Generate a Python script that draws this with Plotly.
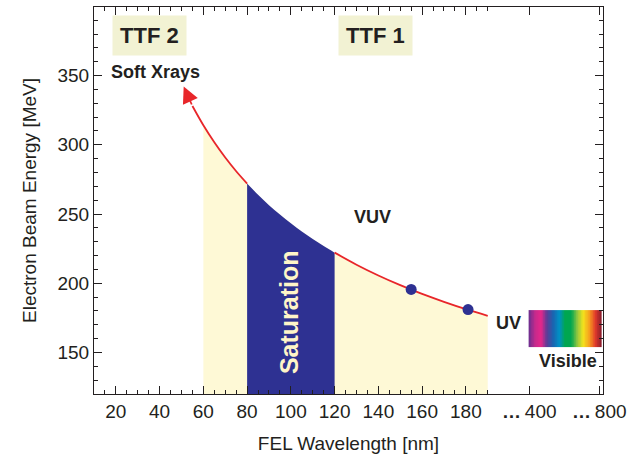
import plotly.graph_objects as go

# ---- data ----
wavelength = [55, 60, 65, 70, 75, 80, 85, 90, 95, 100, 105, 110, 115, 120,
              130, 140, 150, 155, 160, 170, 180, 190]
energy = [328.0, 314.1, 301.8, 290.8, 280.9, 272.0, 263.9, 256.4, 249.6, 243.3,
          237.4, 232.0, 226.9, 222.1, 213.4, 205.6, 198.6, 195.4, 192.3, 186.6,
          181.3, 176.5]
arrow_tip = (51, 342.0)
points_x = [155, 181]
points_y = [195.5, 181.0]
yellow_range = (60, 190)
saturation_range = (80, 120)

x_tickvals = [20, 40, 60, 80, 100, 120, 140, 160, 180, 209, 241]
x_ticktext = ["20", "40", "60", "80", "100", "120", "140", "160", "180",
              "<b>\u2026</b>\u2009400", "<b>\u2026</b>\u2009800"]
x_minor = [v for v in range(10, 195, 5) if v % 20 != 0]
y_tickvals = [150, 200, 250, 300, 350]

spectrum_colors = ["#6B2E8F", "#C42A8C", "#E6268A", "#5B3D97", "#1B63B0",
                   "#0090C5", "#00A650", "#00A650", "#8CC540", "#F4E41C",
                   "#F6A01E", "#E23A2B", "#8B1D2C"]
spectrum_x = (208.7, 242.0)
spectrum_y = (154.2, 180.6)

TEXT = "#231F20"
FONT = "Liberation Sans, Arial, sans-serif"

fig = go.Figure()

# yellow region under the curve
yx = [w for w in wavelength if yellow_range[0] <= w <= yellow_range[1]]
yy = [e for w, e in zip(wavelength, energy) if yellow_range[0] <= w <= yellow_range[1]]
fig.add_trace(go.Scatter(x=yx, y=yy, mode="lines", line=dict(width=0, shape="spline"),
                         fill="tozeroy", fillcolor="#FEF9D6", hoverinfo="skip",
                         showlegend=False))

# saturation region
sx = [w for w in wavelength if saturation_range[0] <= w <= saturation_range[1]]
sy = [e for w, e in zip(wavelength, energy) if saturation_range[0] <= w <= saturation_range[1]]
fig.add_trace(go.Scatter(x=sx, y=sy, mode="lines", line=dict(width=0, shape="spline"),
                         fill="tozeroy", fillcolor="#2E3192", hoverinfo="skip",
                         showlegend=False))

# red curve (not drawn over the saturation top)
for keep in (lambda w: w <= saturation_range[0], lambda w: w >= saturation_range[1]):
    cx = [w for w in wavelength if keep(w)]
    cy = [e for w, e in zip(wavelength, energy) if keep(w)]
    fig.add_trace(go.Scatter(x=cx, y=cy, mode="lines",
                             line=dict(color="#E8262A", width=1.8, shape="spline"),
                             showlegend=False))

# data points
fig.add_trace(go.Scatter(x=points_x, y=points_y, mode="markers",
                         marker=dict(color="#2E3192", size=11),
                         showlegend=False))

# visible spectrum (cell edges given explicitly)
n = len(spectrum_colors)
steps = n * 8
spec_edges = [spectrum_x[0] + (spectrum_x[1] - spectrum_x[0]) * i / steps
              for i in range(steps + 1)]
colorscale = [[i / (n - 1), c] for i, c in enumerate(spectrum_colors)]
fig.add_trace(go.Heatmap(x=spec_edges, y=list(spectrum_y),
                         z=[list(range(steps))], zmin=0, zmax=steps - 1,
                         colorscale=colorscale, showscale=False, hoverinfo="skip"))

# arrow head at the high-energy end
fig.add_annotation(x=arrow_tip[0], y=arrow_tip[1], ax=wavelength[0], ay=energy[0],
                   xref="x", yref="y", axref="x", ayref="y", text="",
                   showarrow=True, arrowhead=2, arrowsize=1.8, arrowwidth=1.8,
                   arrowcolor="#E8262A")

def label(x, y, text, size, color=TEXT, bg=None, angle=0, pad=0):
    fig.add_annotation(x=x, y=y, xref="x", yref="y", text=text, showarrow=False,
                       font=dict(family=FONT, size=size, color=color),
                       bgcolor=bg, borderpad=pad, textangle=angle)

label(35.5, 378.6, "<b>TTF 2</b>", 22, bg="#F2F2D3", pad=7)
label(138.8, 378.6, "<b>TTF 1</b>", 22, bg="#F2F2D3", pad=7)
label(38.3, 352.6, "<b>Soft Xrays</b>", 18)
label(137.3, 247.9, "<b>VUV</b>", 18)
label(199.3, 171.3, "<b>UV</b>", 18)
label(226.8, 143.9, "<b>Visible</b>", 18)
label(99.5, 179.0, "<b>Saturation</b>", 25, color="#FFF5C8", angle=-90)

fig.update_layout(
    width=629, height=455,
    margin=dict(l=94, r=26, t=7, b=61),
    paper_bgcolor="white", plot_bgcolor="white",
    font=dict(family=FONT, color=TEXT),
    showlegend=False,
)
fig.update_xaxes(
    range=[10, 242.7], tickmode="array", tickvals=x_tickvals, ticktext=x_ticktext,
    ticks="inside", ticklen=8, tickwidth=1, tickcolor=TEXT,
    minor=dict(tickmode="array", tickvals=x_minor, ticks="inside", ticklen=4,
               tickcolor=TEXT),
    showgrid=False, zeroline=False, showline=True, linecolor=TEXT, linewidth=1.2,
    mirror="allticks", tickfont=dict(size=19, color=TEXT), automargin=False,
    title=dict(text="FEL Wavelength [nm]", font=dict(size=19, color=TEXT)),
)
fig.update_yaxes(
    range=[120, 399.5], tickmode="array", tickvals=y_tickvals,
    ticks="inside", ticklen=8, tickwidth=1, tickcolor=TEXT,
    minor=dict(dtick=10, tick0=0, ticks="inside", ticklen=4, tickcolor=TEXT),
    showgrid=False, zeroline=False, showline=True, linecolor=TEXT, linewidth=1.2,
    mirror="allticks", tickfont=dict(size=19, color=TEXT), automargin=False,
    title=dict(text="Electron Beam Energy [MeV]", font=dict(size=19, color=TEXT)),
)

fig.write_html("out.html", config={"displayModeBar": False},
               post_script="document.body.style.margin='0';"
                           "document.body.style.padding='0';")
